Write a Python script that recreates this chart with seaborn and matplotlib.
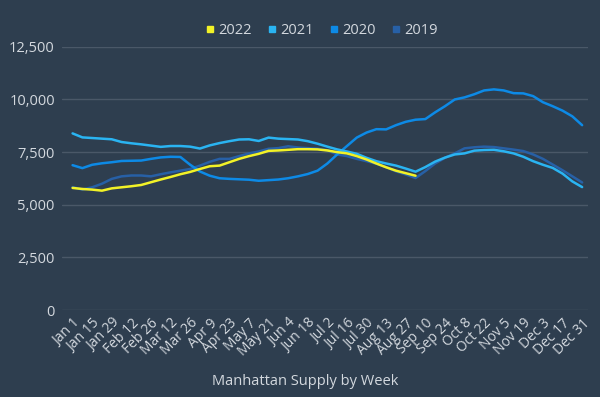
import pandas as pd
import matplotlib.pyplot as plt
from matplotlib.lines import Line2D
from matplotlib.ticker import FuncFormatter
import seaborn as sns

# weekly listings, Jan 1 .. Dec 31 (53 weeks); 2022 stops early September
supply_2022 = [5800, 5750, 5720, 5670, 5780, 5830, 5880, 5940, 6070, 6200,
               6320, 6450, 6560, 6700, 6830, 6860, 7020, 7180, 7310, 7420,
               7560, 7580, 7610, 7640, 7640, 7630, 7580, 7500, 7440, 7310,
               7150, 6960, 6780, 6620, 6500, 6380]
supply_2021 = [8390, 8200, 8170, 8140, 8110, 7980, 7920, 7870, 7810, 7750,
               7790, 7790, 7760, 7670, 7820, 7930, 8020, 8100, 8110, 8030,
               8190, 8140, 8120, 8100, 8020, 7900, 7760, 7630, 7530, 7420,
               7230, 7070, 6960, 6860, 6720, 6570, 6790, 7050, 7240, 7390,
               7440, 7570, 7600, 7610, 7540, 7440, 7280, 7070, 6900, 6750,
               6480, 6110, 5840]
supply_2020 = [6880, 6740, 6900, 6970, 7020, 7080, 7090, 7100, 7180, 7250,
               7280, 7270, 6900, 6580, 6380, 6260, 6230, 6210, 6190, 6140,
               6170, 6200, 6260, 6350, 6460, 6620, 6960, 7390, 7790, 8190,
               8430, 8590, 8580, 8780, 8940, 9040, 9070, 9390, 9680, 10000,
               10100, 10250, 10430, 10480, 10430, 10300, 10290, 10160, 9870, 9680,
               9470, 9200, 8780]
supply_2019 = [5840, 5720, 5830, 6000, 6230, 6350, 6390, 6390, 6350, 6450,
               6540, 6620, 6700, 6860, 7040, 7180, 7180, 7310, 7440, 7530,
               7660, 7690, 7780, 7720, 7690, 7660, 7590, 7390, 7310, 7180,
               7070, 6950, 6790, 6590, 6440, 6270, 6600, 6960, 7230, 7440,
               7680, 7730, 7760, 7740, 7680, 7620, 7550, 7390, 7180, 6910,
               6640, 6350, 6060]

years = ["2022", "2021", "2020", "2019"]
tick_labels = ["Jan 1", "Jan 15", "Jan 29", "Feb 12", "Feb 26", "Mar 12", "Mar 26",
               "Apr 9", "Apr 23", "May 7", "May 21", "Jun 4", "Jun 18", "Jul 2",
               "Jul 16", "Jul 30", "Aug 13", "Aug 27", "Sep 10", "Sep 24", "Oct 8",
               "Oct 22", "Nov 5", "Nov 19", "Dec 3", "Dec 17", "Dec 31"]

colors = {"2022": "#f2f227", "2021": "#2ab4f2", "2020": "#0d8ae6", "2019": "#2760a6"}
bg = "#2e3e4f"
grid_c = "#4a5868"
text_c = "#d3d8de"

frames = []
for year, vals in zip(years, [supply_2022, supply_2021, supply_2020, supply_2019]):
    frames.append(pd.DataFrame({"week": range(len(vals)), "supply": vals, "year": year}))
df = pd.concat(frames, ignore_index=True)

sns.set_theme(style="white")
plt.rcParams["font.family"] = ["Open Sans", "DejaVu Sans"]

fig = plt.figure(figsize=(6, 3.97), dpi=100, facecolor=bg)
ax = fig.add_axes([0.103, 0.219, 0.877, 0.663], facecolor=bg)

# draw 2019 first so 2022 ends up on top
sns.lineplot(data=df, x="week", y="supply", hue="year", hue_order=years[::-1],
             palette=colors, linewidth=1.8, legend=False, ax=ax)

ax.set_ylim(0, 12500)
ax.set_yticks(range(0, 12501, 2500))
ax.yaxis.set_major_formatter(FuncFormatter(lambda v, p: f"{int(v):,}"))
ax.set_xlim(-1.1, 52.6)
ax.set_xticks(range(0, 53, 2))
ax.set_xticklabels(tick_labels, rotation=45, ha="right", rotation_mode="anchor")
ax.grid(axis="y", color=grid_c, linewidth=1)
ax.set_axisbelow(True)
ax.set_xlabel("")
ax.set_ylabel("")
for s in ax.spines.values():
    s.set_visible(False)
ax.tick_params(axis="y", length=0, pad=5, labelsize=10.5, labelcolor=text_c)
ax.tick_params(axis="x", length=0, pad=4, labelsize=10, labelcolor=text_c)

handles = [Line2D([], [], marker="s", linestyle="none", markersize=4.5,
                  color=colors[y]) for y in years]
fig.legend(handles, years, loc="center", bbox_to_anchor=(0.535, 0.924), ncol=4,
           frameon=False, fontsize=10.5, labelcolor=text_c, handletextpad=0.15,
           columnspacing=1.0, handlelength=0.8)

fig.text(0.508, 0.04, "Manhattan Supply by Week", ha="center", va="center",
         fontsize=10.5, color=text_c)

fig.savefig("out.png", dpi=100, facecolor=bg)
